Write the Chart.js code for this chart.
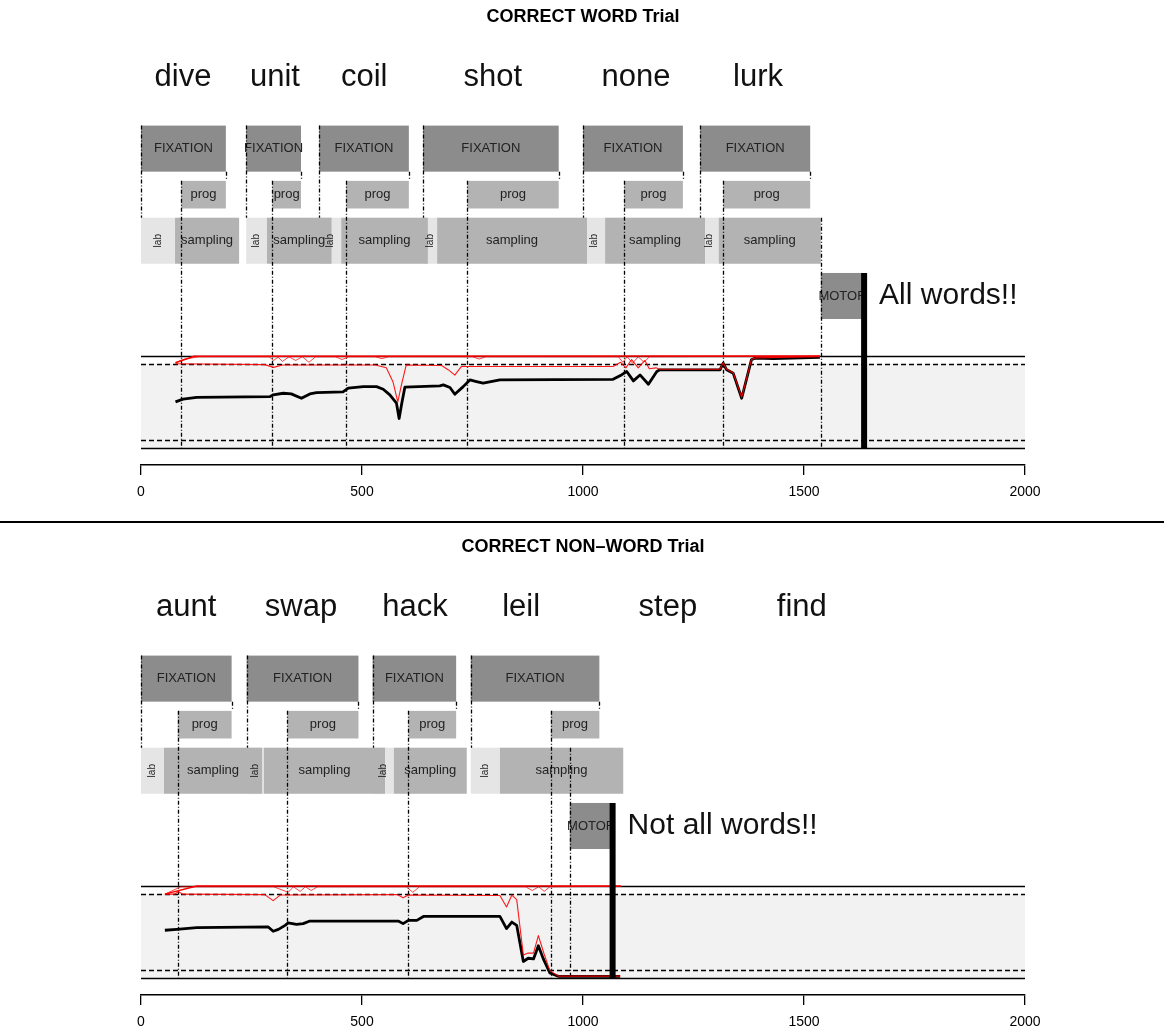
<!DOCTYPE html>
<html>
<head>
<meta charset="utf-8">
<script src="https://cdn.jsdelivr.net/npm/chart.js@4.4.1/dist/chart.umd.min.js"></script>
<style>
  html, body { margin: 0; padding: 0; background: #fff; overflow: hidden; }
  #wrap { position: relative; width: 1164px; height: 1035px; }
  canvas { position: absolute; left: 0; }
  #c1 { top: 0; }
  #sep { position: absolute; left: 0; top: 521px; width: 1164px; height: 2px; background: #000; }
  #c2 { top: 530px; }
</style>
</head>
<body>
<div id="wrap">
  <canvas id="c1" width="1164" height="521"></canvas>
  <div id="sep"></div>
  <canvas id="c2" width="1164" height="505"></canvas>
</div>
<script>
// ---------- Trial 1: correct word trial (times in ms) ----------
const wordTitle = 'CORRECT WORD Trial';
const wordWords = ['dive', 'unit', 'coil', 'shot', 'none', 'lurk'];
const wordWordAt = [95, 303, 505, 796, 1120, 1396];
const wordFixOn = [0, 238, 403, 638, 1000, 1265];
const wordFixOff = [192, 362, 606, 945, 1226, 1514];
const wordProgOn = [91, 297, 464, 738, 1093, 1317];
const wordLabileOff = [77, 285, 453, 670, 1050, 1307];
const wordSampOff = [222, 431, 649, 1009, 1276, 1538];
const wordMotor = [1538, 1636];
const wordVerdict = 'All words!!';

// evidence traces [time, value]
const wordBlack = [
  [78, 0.50], [95, 0.53], [126, 0.55], [292, 0.558], [299, 0.576], [322, 0.594], [340, 0.587],
  [363, 0.54], [382, 0.587], [397, 0.601], [457, 0.609], [469, 0.649], [503, 0.666], [533, 0.666],
  [548, 0.638], [563, 0.576], [578, 0.486], [584, 0.32], [590, 0.486], [597, 0.66], [676, 0.674],
  [684, 0.685], [699, 0.656], [710, 0.583], [729, 0.666], [744, 0.739], [759, 0.721], [774, 0.703],
  [812, 0.739], [1068, 0.745], [1087, 0.793], [1099, 0.83], [1114, 0.728], [1129, 0.793],
  [1148, 0.692], [1167, 0.83], [1174, 0.848], [1310, 0.848], [1317, 0.92], [1325, 0.848],
  [1340, 0.81], [1359, 0.54], [1381, 0.957], [1389, 0.975], [1431, 0.97], [1536, 0.985]
];
const wordRedA = [[78, 0.925], [120, 0.995], [1536, 0.998]];
const wordRedB = [
  [78, 0.915], [280, 0.905], [300, 0.875], [320, 0.9], [530, 0.9], [555, 0.87], [570, 0.72],
  [581, 0.5], [590, 0.7], [600, 0.9], [680, 0.895], [695, 0.85], [710, 0.79], [725, 0.885],
  [1068, 0.885], [1085, 0.93], [1097, 0.87], [1110, 0.96], [1125, 0.87], [1140, 0.95],
  [1150, 0.86], [1165, 0.87], [1174, 0.855], [1310, 0.855], [1317, 0.925], [1325, 0.855],
  [1340, 0.815], [1359, 0.55], [1381, 0.96], [1389, 0.978], [1536, 0.99]
];
const wordRedC = [
  [78, 0.925], [95, 0.96], [130, 0.99], [290, 0.99], [300, 0.95], [310, 0.985], [320, 0.94],
  [335, 0.99], [350, 0.95], [365, 0.99], [380, 0.93], [395, 0.99], [440, 0.99], [455, 0.96],
  [470, 0.99], [530, 0.99], [545, 0.97], [560, 0.99], [750, 0.99], [765, 0.965], [780, 0.99],
  [1080, 0.99], [1090, 0.93], [1100, 0.99], [1112, 0.92], [1125, 0.99], [1138, 0.93],
  [1150, 0.99], [1536, 0.995]
];

// ---------- Trial 2: correct non-word trial ----------
const nonwordTitle = 'CORRECT NON\u2013WORD Trial';
const nonwordWords = ['aunt', 'swap', 'hack', 'leil', 'step', 'find'];
const nonwordWordAt = [102, 362, 620, 860, 1192, 1495];
const nonwordFixOn = [0, 239, 524, 746];
const nonwordFixOff = [205, 492, 713, 1037];
const nonwordProgOn = [83, 331, 605, 927];
const nonwordLabileOff = [52, 278, 572, 812];
const nonwordSampOff = [274, 552, 737, 1091];
const nonwordMotor = [970, 1067];
const nonwordVerdict = 'Not all words!!';

const nonwordBlack = [
  [54, 0.518], [81, 0.528], [126, 0.546], [288, 0.554], [299, 0.507], [311, 0.528], [326, 0.571],
  [333, 0.597], [352, 0.582], [367, 0.59], [382, 0.618], [582, 0.618], [593, 0.59], [605, 0.625],
  [624, 0.625], [639, 0.668], [812, 0.668], [827, 0.536], [839, 0.607], [850, 0.571],
  [865, 0.179], [876, 0.214], [888, 0.207], [899, 0.35], [910, 0.21], [925, 0.054],
  [944, 0.018], [1084, 0.018]
];
const nonwordRedA = [[54, 0.91], [126, 0.998], [1086, 0.998]];
const nonwordRedB = [
  [54, 0.91], [75, 0.91], [85, 0.935], [95, 0.91], [280, 0.905], [299, 0.84], [315, 0.9],
  [580, 0.905], [593, 0.87], [605, 0.9], [812, 0.895], [827, 0.77], [839, 0.9], [850, 0.85],
  [865, 0.25], [876, 0.27], [888, 0.27], [899, 0.46], [912, 0.26], [925, 0.08], [944, 0.02],
  [1084, 0.02]
];
const nonwordRedC = [
  [54, 0.91], [90, 0.99], [300, 0.99], [333, 0.93], [345, 0.99], [360, 0.94], [372, 0.99],
  [385, 0.95], [400, 0.99], [600, 0.99], [615, 0.93], [630, 0.99], [870, 0.99], [885, 0.95],
  [900, 0.99], [912, 0.94], [925, 0.99], [1084, 0.995]
];

// ---------- vertical layout of the diagram rows (value units of the y scale) ----------
const ROWS = { fix: [3.0, 3.5], prog: [2.6, 2.9], samp: [2.0, 2.5], motor: [1.4, 1.9], words: 4.02 };
const BAND = { top: 1, bottom: 0, hi: 0.913, lo: 0.087 };
const COLORS = { fix: '#8c8c8c', prog: '#b3b3b3', samp: '#b3b3b3', labile: '#e5e5e5', motor: '#8c8c8c', band: '#f2f2f2' };
const FONT = "'Liberation Sans', Arial, Helvetica, sans-serif";

const diagramPlugin = {
  id: 'diagram',
  beforeDatasetsDraw(chart) {
    const t = chart.options.plugins.diagram;
    const { ctx, chartArea: a } = chart;
    const xs = chart.scales.x, ys = chart.scales.y;
    const X = v => xs.getPixelForValue(v), Y = v => ys.getPixelForValue(v);
    ctx.save();

    // activation band
    ctx.fillStyle = COLORS.band;
    ctx.fillRect(a.left, Y(BAND.hi), a.right - a.left, Y(BAND.bottom) - Y(BAND.hi));
    const hline = (v, dash, w) => {
      ctx.beginPath();
      ctx.setLineDash(dash);
      ctx.lineWidth = w;
      ctx.strokeStyle = '#000';
      ctx.moveTo(a.left, Math.round(Y(v)) + 0.5);
      ctx.lineTo(a.right, Math.round(Y(v)) + 0.5);
      ctx.stroke();
    };
    hline(BAND.top, [], 1.5);
    hline(BAND.bottom, [], 1.5);
    hline(BAND.hi, [5, 3], 1.3);
    hline(BAND.lo, [5, 3], 1.3);
    ctx.setLineDash([]);

    // stage boxes
    const box = (t0, t1, row, color) => {
      ctx.fillStyle = color;
      ctx.fillRect(X(t0), Y(row[1]), X(t1) - X(t0), Y(row[0]) - Y(row[1]));
    };
    t.fixOn.forEach((on, i) => box(on, t.fixOff[i], ROWS.fix, COLORS.fix));
    t.progOn.forEach((on, i) => box(on, t.fixOff[i], ROWS.prog, COLORS.prog));
    t.fixOn.forEach((on, i) => box(on, t.labileOff[i], ROWS.samp, COLORS.labile));
    t.labileOff.forEach((on, i) => box(on, t.sampOff[i], ROWS.samp, COLORS.samp));
    box(t.motor[0], t.motor[1], ROWS.motor, COLORS.motor);

    // box labels
    ctx.fillStyle = '#222';
    ctx.textAlign = 'center';
    ctx.textBaseline = 'middle';
    ctx.font = '13px ' + FONT;
    const mid = r => Y((r[0] + r[1]) / 2);
    t.fixOn.forEach((on, i) => ctx.fillText('FIXATION', (X(on) + X(t.fixOff[i])) / 2, mid(ROWS.fix)));
    t.progOn.forEach((on, i) => ctx.fillText('prog', (X(on) + X(t.fixOff[i])) / 2, mid(ROWS.prog)));
    t.labileOff.forEach((on, i) => ctx.fillText('sampling', (X(on) + X(t.sampOff[i])) / 2, mid(ROWS.samp)));
    ctx.font = '10px ' + FONT;
    t.fixOn.forEach((on, i) => {
      ctx.save();
      ctx.translate((X(on) + X(t.labileOff[i])) / 2, mid(ROWS.samp));
      ctx.rotate(-Math.PI / 2);
      ctx.fillText('lab', 0, 0);
      ctx.restore();
    });
    ctx.font = '13px ' + FONT;
    ctx.fillText('MOTOR', (X(t.motor[0]) + X(t.motor[1])) / 2, mid(ROWS.motor));

    // words above the fixation rows
    ctx.fillStyle = '#111';
    ctx.font = '31px ' + FONT;
    t.words.forEach((w, i) => ctx.fillText(w, X(t.wordAt[i]), Y(ROWS.words)));

    // event markers
    ctx.strokeStyle = '#000';
    ctx.lineWidth = 1.3;
    ctx.setLineDash([4, 2, 1, 2]);
    const vline = (tm, v0, v1) => {
      const px = Math.round(X(tm)) + 0.5;
      ctx.beginPath();
      ctx.moveTo(px, Y(v0));
      ctx.lineTo(px, Y(v1));
      ctx.stroke();
    };
    t.fixOn.forEach(on => vline(on, ROWS.fix[1], ROWS.samp[1]));
    t.fixOff.forEach(off => vline(off, ROWS.fix[0], ROWS.prog[1]));
    t.progOn.forEach(on => vline(on, ROWS.prog[1], BAND.bottom));
    vline(t.motor[0], ROWS.samp[1], BAND.bottom);
    ctx.restore();
  },
  afterDatasetsDraw(chart) {
    const t = chart.options.plugins.diagram;
    const { ctx } = chart;
    const X = v => chart.scales.x.getPixelForValue(v), Y = v => chart.scales.y.getPixelForValue(v);
    ctx.save();
    // response
    ctx.strokeStyle = '#000';
    ctx.lineWidth = 6;
    ctx.beginPath();
    ctx.moveTo(X(t.motor[1]), Y(ROWS.motor[1]));
    ctx.lineTo(X(t.motor[1]), Y(BAND.bottom));
    ctx.stroke();
    ctx.fillStyle = '#111';
    ctx.font = '30px ' + FONT;
    ctx.textAlign = 'left';
    ctx.textBaseline = 'middle';
    ctx.fillText(t.verdict, X(t.motor[1]) + 15, Y((ROWS.motor[0] + ROWS.motor[1]) / 2));
    ctx.restore();
  }
};

const pts = arr => arr.map(([x, y]) => ({ x, y }));

function makePanel(canvasId, trial) {
  const canvas = document.getElementById(canvasId);
  const axisHeight = canvas.height - 465;
  return new Chart(canvas, {
    type: 'line',
    data: {
      datasets: [
        { data: pts(trial.redB), borderColor: 'rgba(255,0,0,0.9)', borderWidth: 1.1 },
        { data: pts(trial.redC), borderColor: 'rgba(255,0,0,0.75)', borderWidth: 1 },
        { data: pts(trial.redA), borderColor: '#ff0000', borderWidth: 1.5 },
        { data: pts(trial.black), borderColor: '#000', borderWidth: 2.8 }
      ]
    },
    options: {
      responsive: false,
      animation: false,
      devicePixelRatio: 1,
      events: [],
      parsing: true,
      elements: { point: { radius: 0 }, line: { tension: 0, borderJoinStyle: 'round', fill: false } },
      layout: { padding: { left: 141, right: 139, top: 0, bottom: 0 } },
      scales: {
        x: {
          type: 'linear', min: 0, max: 2000,
          ticks: {
            stepSize: 500, color: '#000', font: { family: FONT, size: 14 }, padding: 9, maxRotation: 0,
            callback: v => String(v)
          },
          grid: { display: true, drawOnChartArea: false, drawTicks: true, tickLength: 10, color: '#000', lineWidth: 1.3 },
          border: { display: true, color: '#000', width: 1.5 },
          afterFit: s => { s.height = axisHeight; }
        },
        y: { type: 'linear', min: -0.185, max: 3.5, display: false }
      },
      plugins: {
        legend: { display: false },
        tooltip: { enabled: false },
        title: {
          display: true, text: trial.title, color: '#000',
          font: { family: FONT, size: 18, weight: 'bold' },
          padding: { top: 6, bottom: 98 }
        },
        diagram: trial
      }
    },
    plugins: [diagramPlugin]
  });
}

makePanel('c1', {
  title: wordTitle, words: wordWords, wordAt: wordWordAt,
  fixOn: wordFixOn, fixOff: wordFixOff, progOn: wordProgOn,
  labileOff: wordLabileOff, sampOff: wordSampOff, motor: wordMotor, verdict: wordVerdict,
  black: wordBlack, redA: wordRedA, redB: wordRedB, redC: wordRedC
});
makePanel('c2', {
  title: nonwordTitle, words: nonwordWords, wordAt: nonwordWordAt,
  fixOn: nonwordFixOn, fixOff: nonwordFixOff, progOn: nonwordProgOn,
  labileOff: nonwordLabileOff, sampOff: nonwordSampOff, motor: nonwordMotor, verdict: nonwordVerdict,
  black: nonwordBlack, redA: nonwordRedA, redB: nonwordRedB, redC: nonwordRedC
});
</script>
</body>
</html>
